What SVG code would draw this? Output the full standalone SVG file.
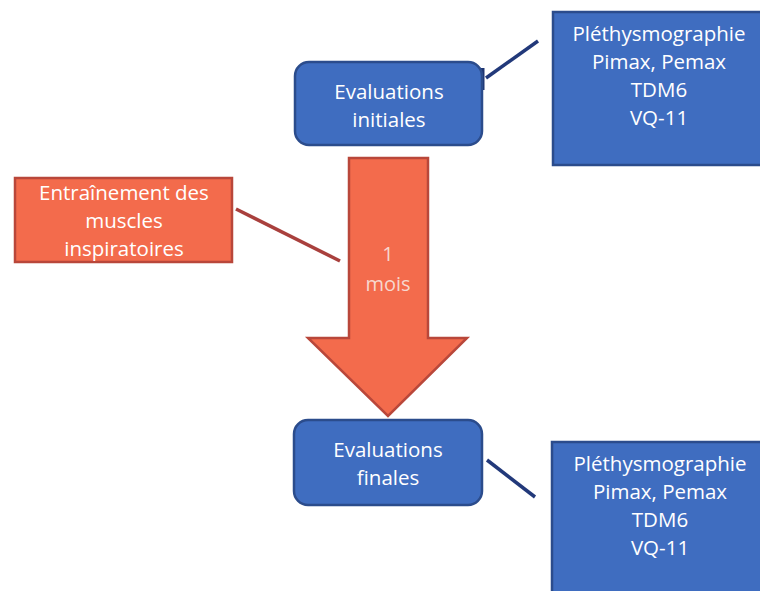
<svg xmlns="http://www.w3.org/2000/svg" width="760" height="591" viewBox="0 0 760 591">
<style>
.blue{fill:#3F6DC0;stroke:#2B4C8C;stroke-width:2.5}
.red{fill:#F36B4C;stroke:#B9473A;stroke-width:2.5}
.t{font-family:"Open Sans","Liberation Sans",sans-serif;font-size:20.5px;fill:#ffffff;text-anchor:middle}
.t2{font-family:"Open Sans","Liberation Sans",sans-serif;font-size:20px;fill:#F7D7CE;text-anchor:middle}
</style>
<rect width="760" height="591" fill="#ffffff"/>
<g id="connectors" fill="none" stroke-width="3.5">
<line x1="486" y1="78" x2="538" y2="41" stroke="#22397A"/>
<line x1="482" y1="68" x2="482" y2="90" stroke="#1E3470" stroke-width="5"/>
<line x1="236" y1="209" x2="340" y2="261" stroke="#A9403D"/>
<line x1="487" y1="460" x2="535" y2="497" stroke="#22397A"/>
</g>
<g id="arrow">
<polygon class="red" points="349,158 428,158 428,338 467,338 388,416 308,338 349,338"/>
<text class="t2" x="388" y="261">1</text>
<text class="t2" x="388" y="291">mois</text>
</g>
<g id="eval-initiales">
<rect class="blue" x="295" y="62" width="187" height="83" rx="14"/>
<text class="t" x="389" y="99">Evaluations</text>
<text class="t" x="389" y="127">initiales</text>
</g>
<g id="tests-initiaux">
<rect class="blue" x="553" y="12" width="215" height="153"/>
<text class="t" x="659" y="41">Pléthysmographie</text>
<text class="t" x="659" y="69">Pimax, Pemax</text>
<text class="t" x="659" y="97">TDM6</text>
<text class="t" x="659" y="125">VQ-11</text>
</g>
<g id="entrainement">
<rect class="red" x="15" y="178" width="217" height="84"/>
<text class="t" x="124" y="200">Entraînement des</text>
<text class="t" x="124" y="228">muscles</text>
<text class="t" x="124" y="256">inspiratoires</text>
</g>
<g id="eval-finales">
<rect class="blue" x="294" y="420" width="188" height="85" rx="14"/>
<text class="t" x="388" y="457">Evaluations</text>
<text class="t" x="388" y="485">finales</text>
</g>
<g id="tests-finaux">
<rect class="blue" x="552" y="442" width="216" height="160"/>
<text class="t" x="660" y="471">Pléthysmographie</text>
<text class="t" x="660" y="499">Pimax, Pemax</text>
<text class="t" x="660" y="527">TDM6</text>
<text class="t" x="660" y="555">VQ-11</text>
</g>
</svg>
